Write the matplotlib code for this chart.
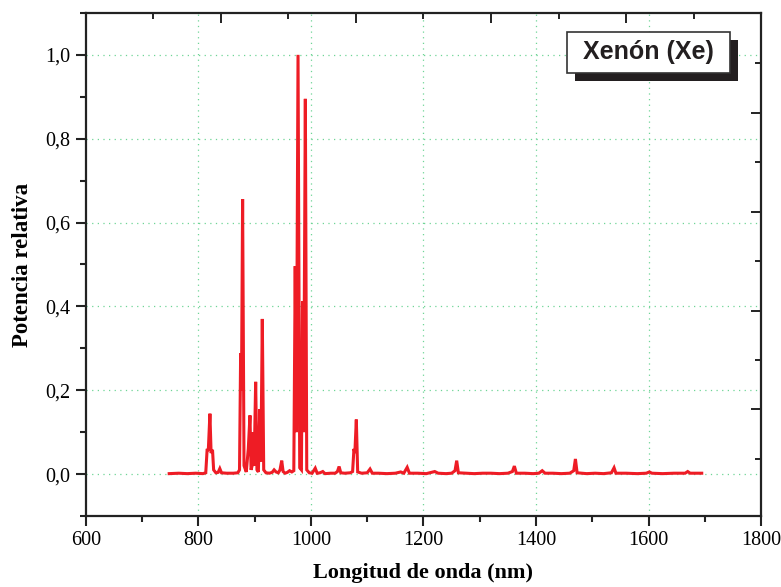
import matplotlib
matplotlib.use("Agg")
import matplotlib.pyplot as plt
from matplotlib.patches import Rectangle
from matplotlib.ticker import MultipleLocator

# ---- data ----
wavelength = [748, 765, 780, 795, 808, 813, 815.5, 817.5, 820.4, 822.5, 825, 827, 831, 835,
              838, 841, 850, 862, 870, 873, 875, 876.5, 878.5, 881, 885, 888.6, 891.6, 893.5,
              895.5, 897.5, 899, 901.7, 904, 906.5, 909, 911, 913.5, 916, 920, 926, 931, 934.5,
              938, 942, 945, 948, 950.5, 954, 958, 962, 966, 969.5, 972, 974, 977, 980, 983,
              985, 987, 990, 992.5, 997, 1002, 1007.6, 1011, 1016, 1021, 1025, 1035, 1043,
              1047, 1050, 1053, 1060, 1070, 1074, 1076.4, 1078, 1080.6, 1083, 1090, 1100,
              1105, 1109, 1120, 1135, 1150, 1159.5, 1165, 1171, 1175, 1190, 1205, 1220, 1226,
              1240, 1250, 1256, 1259, 1262, 1275, 1290, 1305, 1320, 1335, 1350, 1358, 1361.5,
              1365, 1380, 1395, 1405, 1411, 1416, 1430, 1445, 1460, 1467, 1470, 1473, 1490,
              1505, 1520, 1534, 1538.7, 1542, 1560, 1580, 1596, 1601.4, 1606, 1625, 1645,
              1665, 1669.6, 1674, 1694.5]
power = [0.001, 0.002, 0.001, 0.002, 0.001, 0.003, 0.06, 0.055, 0.144, 0.05, 0.058, 0.01, 0.003, 0.004,
         0.013, 0.003, 0.002, 0.002, 0.003, 0.01, 0.288, 0.2, 0.656, 0.02, 0.005, 0.06, 0.14, 0.01,
         0.02, 0.1, 0.02, 0.22, 0.01, 0.005, 0.155, 0.03, 0.37, 0.01, 0.003, 0.002, 0.004, 0.01,
         0.005, 0.003, 0.01, 0.032, 0.006, 0.002, 0.004, 0.008, 0.005, 0.008, 0.496, 0.1, 1.0, 0.015, 0.01,
         0.412, 0.1, 0.895, 0.01, 0.003, 0.002, 0.014, 0.002, 0.003, 0.006, 0.001, 0.002, 0.002,
         0.006, 0.018, 0.003, 0.002, 0.003, 0.006, 0.06, 0.05, 0.13, 0.005, 0.002, 0.003,
         0.012, 0.002, 0.002, 0.001, 0.002, 0.005, 0.002, 0.016, 0.002, 0.002, 0.001, 0.006, 0.002,
         0.001, 0.002, 0.008, 0.032, 0.003, 0.002, 0.001, 0.002, 0.002, 0.001, 0.002, 0.006, 0.019,
         0.002, 0.002, 0.001, 0.002, 0.008, 0.002, 0.002, 0.001, 0.002, 0.008, 0.036, 0.003, 0.001,
         0.002, 0.001, 0.003, 0.015, 0.002, 0.002, 0.001, 0.002, 0.005, 0.002, 0.001, 0.002,
         0.002, 0.006, 0.002, 0.002]

x_ticks = [600, 800, 1000, 1200, 1400, 1600, 1800]
x_tick_labels = ["600", "800", "1000", "1200", "1400", "1600", "1800"]
y_ticks = [0.0, 0.2, 0.4, 0.6, 0.8, 1.0]
y_tick_labels = ["0,0", "0,2", "0,4", "0,6", "0,8", "1,0"]
x_label = "Longitud de onda (nm)"
y_label = "Potencia relativa"
title_text = "Xenón (Xe)"

# ---- figure ----
fig = plt.figure(figsize=(7.81, 5.87), dpi=100)
ax = fig.add_axes([0.110, 0.121, 0.8645, 0.857])

ax.plot(wavelength, power, color="#ee1c25", lw=2.2, solid_joinstyle="miter", zorder=3)

ax.set_xlim(600, 1800)
ax.set_ylim(-0.1, 1.1)

serif = "Liberation Serif"
ax.set_xticks(x_ticks)
ax.set_xticklabels(x_tick_labels, family=serif, fontsize=14.5)
ax.set_yticks(y_ticks)
ax.set_yticklabels(y_tick_labels, family=serif, fontsize=14.5)
ax.xaxis.set_minor_locator(MultipleLocator(100))
ax.yaxis.set_minor_locator(MultipleLocator(0.1))
ax.tick_params(which="major", direction="out", length=7, width=1.5, color="#222222",
               top=False, right=False, pad=4)
ax.tick_params(which="minor", direction="out", length=4, width=1.5, color="#222222",
               top=False, right=False)

for s in ax.spines.values():
    s.set_linewidth(1.6)
    s.set_color("#222222")

# grid (dotted green, inner major positions)
for xv in x_ticks[1:-1]:
    ax.axvline(xv, color="#6fd596", lw=0.9, ls=(0, (1, 3.5)), zorder=1)
for yv in y_ticks:
    ax.axhline(yv, color="#6fd596", lw=0.9, ls=(0, (1, 3.5)), zorder=1)

ax.set_xlabel(x_label, family=serif, fontweight="bold", fontsize=16, labelpad=9)
ax.set_ylabel(y_label, family=serif, fontweight="bold", fontsize=16.5, labelpad=9)

# top & right inner ticks (separate scale as in the original)
top_short = [720, 960, 1200, 1440, 1680]
top_long = [840, 1080, 1320, 1560]
right_short = [0.037, 0.272, 0.508, 0.744, 0.98]
right_long = [0.154, 0.39, 0.626, 0.862]
axt = ax.twiny()
axt.set_xlim(ax.get_xlim())
axt.set_xticks(top_long)
axt.set_xticks(top_short, minor=True)
axt.tick_params(which="both", direction="in", labeltop=False, width=1.4, color="#222222")
axt.tick_params(which="major", length=7)
axt.tick_params(which="minor", length=4)
axr = ax.twinx()
axr.set_ylim(ax.get_ylim())
axr.set_yticks(right_long)
axr.set_yticks(right_short, minor=True)
axr.tick_params(which="both", direction="in", labelright=False, width=1.4, color="#222222")
axr.tick_params(which="major", length=7)
axr.tick_params(which="minor", length=4)
for a in (axt, axr):
    for s in a.spines.values():
        s.set_visible(False)

# title box with shadow (in pixel-based figure coords)
W, H = 781, 587
def fbox(x0, y0, x1, y1):
    return (x0 / W, 1 - y1 / H), (x1 - x0) / W, (y1 - y0) / H
(p, w, h) = fbox(575, 40, 738, 81)
fig.patches.append(Rectangle(p, w, h, transform=fig.transFigure, facecolor="#231f20",
                             edgecolor="none", zorder=5))
(p, w, h) = fbox(567, 32, 730, 73)
fig.patches.append(Rectangle(p, w, h, transform=fig.transFigure, facecolor="white",
                             edgecolor="#333333", lw=1.2, zorder=6))
fig.text((567 + 730) / 2 / W, 1 - 52.5 / H, title_text, ha="center", va="center",
         family="Liberation Sans", fontweight="bold", fontsize=18, color="#231f20", zorder=7)

fig.savefig("out.png", dpi=100)
